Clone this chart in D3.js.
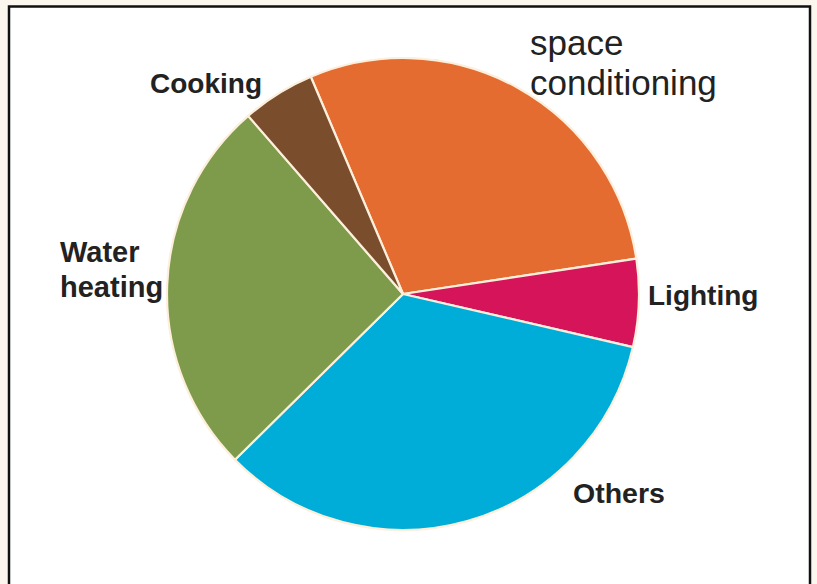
<!DOCTYPE html>
<html>
<head>
<meta charset="utf-8">
<script src="https://cdn.jsdelivr.net/npm/d3@7"></script>
<style>
  html, body { margin: 0; padding: 0; background: #fbf6ee; }
  svg { display: block; }
</style>
</head>
<body>
<script>
const categories = ["space conditioning", "Lighting", "Others", "Water heating", "Cooking"];
const values = [29, 6, 34, 26, 5];
const colors = ["#E46C30", "#D5145A", "#00ADD8", "#7E9A4B", "#7A4E2D"];
const labelLines = [["space", "conditioning"], ["Lighting"], ["Others"], ["Water", "heating"], ["Cooking"]];

const W = 817, H = 584;
const svg = d3.select("body").append("svg").attr("width", W).attr("height", H);

// outer background and frame
svg.append("rect").attr("x", 0).attr("y", 0).attr("width", W).attr("height", H).attr("fill", "#fbf6ee");
svg.append("rect").attr("x", 9).attr("y", 6.5).attr("width", 801).attr("height", 600)
  .attr("fill", "#ffffff").attr("stroke", "#111").attr("stroke-width", 2.5);

const cx = 403, cy = 294, r = 236;
const start = -23 * Math.PI / 180;
const pie = d3.pie().sort(null).value(d => d).startAngle(start).endAngle(start + 2 * Math.PI);
const arc = d3.arc().innerRadius(0).outerRadius(r);
const arcs = pie(values);

const g = svg.append("g").attr("transform", `translate(${cx},${cy})`);
g.selectAll("path").data(arcs).enter().append("path")
  .attr("d", arc)
  .attr("fill", (d, i) => colors[i])
  .attr("stroke", "#fcefdc")
  .attr("stroke-width", 2.2)
  .attr("stroke-linejoin", "round");

// labels
const labelPos = [
  { x: 530, y: 55, dy: 40, size: 35, weight: "normal" },
  { x: 648, y: 305, dy: 0, size: 28, weight: "bold" },
  { x: 573, y: 503, dy: 0, size: 28.5, weight: "bold" },
  { x: 60, y: 262, dy: 35, size: 29, weight: "bold" },
  { x: 150, y: 93, dy: 0, size: 28, weight: "bold" }
];
labelLines.forEach((lines, i) => {
  const p = labelPos[i];
  const t = svg.append("text")
    .attr("x", p.x).attr("y", p.y)
    .attr("font-family", "Liberation Sans, Arial, sans-serif")
    .attr("font-size", p.size)
    .attr("font-weight", p.weight)
    .attr("fill", "#222");
  lines.forEach((ln, j) => {
    t.append("tspan").attr("x", p.x).attr("y", p.y + j * p.dy).text(ln);
  });
});
</script>
</body>
</html>
